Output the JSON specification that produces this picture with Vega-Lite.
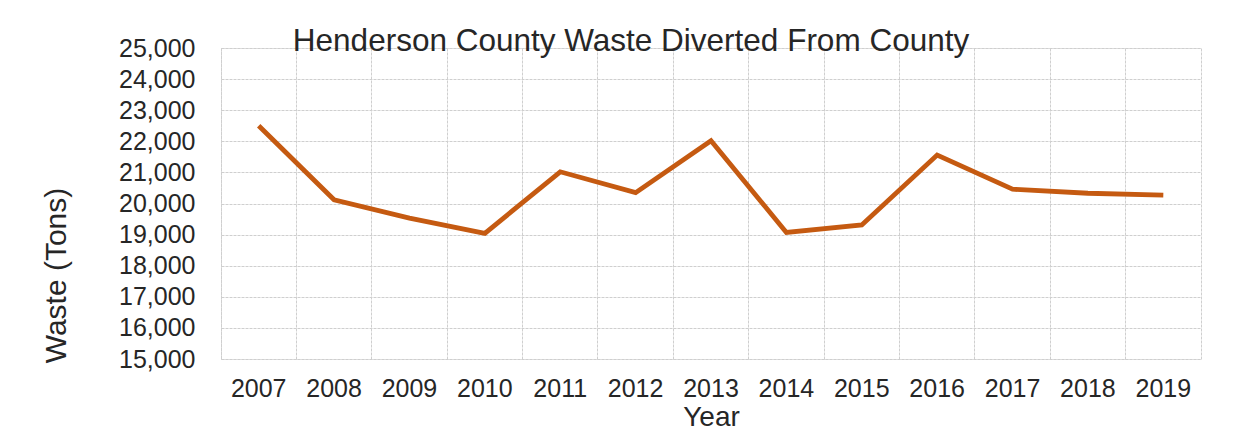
{
  "$schema": "https://vega.github.io/schema/vega-lite/v6.json",
  "width": 980,
  "height": 311,
  "autosize": {"type": "none"},
  "padding": {"left": 221, "top": 48, "right": 44, "bottom": 75},
  "background": "white",
  "title": {
    "text": "Henderson County Waste Diverted From County",
    "fontSize": 31.5,
    "font": "Liberation Sans",
    "fontWeight": "normal",
    "color": "#262626",
    "anchor": "middle",
    "frame": "group",
    "dx": -80,
    "offset": -46,
    "baseline": "alphabetic"
  },
  "data": {
    "values": [
      {"Year": "2007", "Waste": 22500},
      {"Year": "2008", "Waste": 20120},
      {"Year": "2009", "Waste": 19530},
      {"Year": "2010", "Waste": 19040},
      {"Year": "2011", "Waste": 21020},
      {"Year": "2012", "Waste": 20350},
      {"Year": "2013", "Waste": 22020},
      {"Year": "2014", "Waste": 19070},
      {"Year": "2015", "Waste": 19310},
      {"Year": "2016", "Waste": 21560},
      {"Year": "2017", "Waste": 20460},
      {"Year": "2018", "Waste": 20330},
      {"Year": "2019", "Waste": 20270}
    ]
  },
  "mark": {"type": "line", "color": "#c55a11", "strokeWidth": 4.8, "strokeJoin": "miter"},
  "encoding": {
    "x": {
      "field": "Year",
      "type": "ordinal",
      "scale": {"type": "band", "paddingInner": 0, "paddingOuter": 0},
      "axis": {
        "title": "Year",
        "bandPosition": 0,
        "grid": true,
        "gridColor": "#cfcfcf",
        "gridDash": [3, 1],
        "ticks": false,
        "domain": false,
        "labelAngle": 0,
        "labelFontSize": 25,
        "labelFont": "Liberation Sans",
        "labelColor": "#262626",
        "labelPadding": 17,
        "titleFontSize": 28,
        "titleFont": "Liberation Sans",
        "titleFontWeight": "normal",
        "titleColor": "#262626",
        "titleY": 66,
        "titleBaseline": "alphabetic"
      }
    },
    "y": {
      "field": "Waste",
      "type": "quantitative",
      "scale": {"domain": [15000, 25000], "nice": false, "zero": false},
      "axis": {
        "title": "Waste (Tons)",
        "values": [15000, 16000, 17000, 18000, 19000, 20000, 21000, 22000, 23000, 24000, 25000],
        "format": ",d",
        "grid": true,
        "gridColor": "#cfcfcf",
        "gridDash": [3, 1],
        "ticks": false,
        "domain": false,
        "labelFontSize": 25,
        "labelFont": "Liberation Sans",
        "labelColor": "#262626",
        "labelPadding": 26,
        "titleFontSize": 30,
        "titleFont": "Liberation Sans",
        "titleFontWeight": "normal",
        "titleColor": "#262626",
        "titleAngle": -90,
        "titleX": -165,
        "titleY": 227,
        "titleAlign": "center",
        "titleBaseline": "middle"
      }
    }
  },
  "config": {"view": {"stroke": "#cfcfcf", "strokeDash": [3, 1]}}
}
